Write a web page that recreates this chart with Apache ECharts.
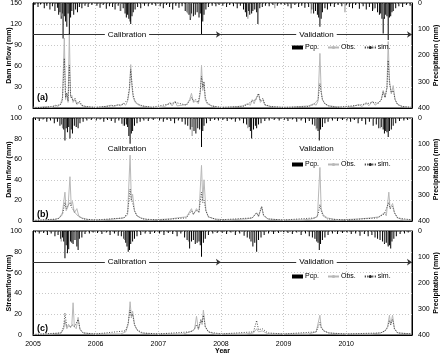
<!DOCTYPE html>
<html><head><meta charset="utf-8">
<script src="https://cdn.jsdelivr.net/npm/echarts@6/dist/echarts.min.js"></script>
<style>html,body{margin:0;padding:0;background:#fff}#c{width:443px;height:360px}</style>
</head><body><div id="c"></div>
<script>
// ---------- data ----------
const yearTicks = [2005, 2006, 2007, 2008, 2009, 2010];
const xMin = 2005, xMax = 2011.05;
const periodBounds = [2005, 2008, 2011.05];
const periodNames = ['Calibration', 'Validation'];
const panelTags = ['(a)', '(b)', '(c)'];
const flowNames = ['Dam inflow (mm)', 'Dam inflow (mm)', 'Streamflow (mm)'];
const flowMax = [150, 100, 100];
const flowStep = [30, 20, 20];
const pcpMax = 400, pcpStep = 100;
const periodLevel = [105, 70, 70];

const pcpA = [[2005.03,8],[2005.08,15],[2005.12,6],[2005.18,20],[2005.22,10],[2005.27,25],[2005.31,12],[2005.35,30],[2005.39,18],[2005.41,45],[2005.43,35],[2005.45,60],[2005.47,40],[2005.48,135],[2005.50,50],[2005.52,70],[2005.54,90],[2005.56,40],[2005.58,118],[2005.60,55],[2005.62,30],[2005.65,45],[2005.68,25],[2005.71,35],[2005.74,15],[2005.78,20],[2005.83,10],[2005.88,15],[2005.94,8],
[2006.02,10],[2006.07,18],[2006.12,8],[2006.17,22],[2006.22,12],[2006.27,15],[2006.31,25],[2006.36,10],[2006.40,30],[2006.44,20],[2006.47,40],[2006.49,55],[2006.51,45],[2006.53,60],[2006.55,70],[2006.56,80],[2006.58,50],[2006.60,35],[2006.63,25],[2006.67,15],[2006.72,20],[2006.78,10],[2006.84,12],[2006.90,8],[2006.96,10],
[2007.03,12],[2007.08,20],[2007.13,8],[2007.18,15],[2007.23,25],[2007.28,10],[2007.33,18],[2007.38,12],[2007.43,30],[2007.46,35],[2007.49,45],[2007.51,65],[2007.53,40],[2007.56,50],[2007.59,45],[2007.62,35],[2007.65,55],[2007.67,40],[2007.69,122],[2007.71,70],[2007.73,45],[2007.76,25],[2007.80,15],[2007.86,10],[2007.92,12],[2007.97,8],
[2008.03,10],[2008.09,15],[2008.14,8],[2008.20,12],[2008.26,20],[2008.31,10],[2008.36,25],[2008.39,35],[2008.41,52],[2008.44,30],[2008.46,45],[2008.49,40],[2008.51,30],[2008.54,25],[2008.57,35],[2008.59,80],[2008.62,20],[2008.66,15],[2008.71,10],[2008.77,12],[2008.83,8],[2008.90,10],[2008.96,6],
[2009.02,8],[2009.07,12],[2009.12,20],[2009.18,8],[2009.24,15],[2009.29,10],[2009.34,18],[2009.40,15],[2009.45,25],[2009.48,40],[2009.51,30],[2009.54,45],[2009.56,55],[2009.58,90],[2009.60,60],[2009.62,35],[2009.66,20],[2009.70,25],[2009.75,12],[2009.81,15],[2009.87,8],[2009.93,12],
[2010.00,10],[2010.05,15],[2010.10,20],[2010.15,8],[2010.21,22],[2010.27,12],[2010.32,25],[2010.37,15],[2010.42,30],[2010.46,20],[2010.50,35],[2010.53,45],[2010.55,40],[2010.57,60],[2010.59,116],[2010.61,60],[2010.63,45],[2010.65,50],[2010.67,141],[2010.69,55],[2010.71,50],[2010.73,35],[2010.75,30],[2010.79,20],[2010.84,12],[2010.90,15],[2010.96,8],[2011.02,10]];
const pcpGreyA = [[2005.46,50],[2006.39,30],[2007.47,40],[2007.52,55],[2008.43,60],[2008.86,20],[2009.44,40],[2009.98,35],[2010.44,25],[2010.60,55]];
const obsA = [[2005.00,1],[2005.10,1],[2005.20,2],[2005.30,1],[2005.36,4],[2005.40,2],[2005.44,6],[2005.47,15],[2005.50,100],[2005.52,12],[2005.54,20],[2005.56,8],[2005.58,107],[2005.60,15],[2005.62,18],[2005.64,8],[2005.67,12],[2005.70,5],[2005.74,8],[2005.78,3],[2005.85,2],[2005.95,1],
[2006.05,1],[2006.15,2],[2006.25,4],[2006.30,2],[2006.35,5],[2006.40,3],[2006.44,7],[2006.48,4],[2006.51,10],[2006.54,25],[2006.56,62],[2006.58,30],[2006.60,15],[2006.63,8],[2006.67,5],[2006.72,3],[2006.80,2],[2006.90,1],
[2007.00,1],[2007.10,2],[2007.19,8],[2007.22,3],[2007.27,10],[2007.30,3],[2007.38,4],[2007.45,5],[2007.50,12],[2007.53,21],[2007.56,8],[2007.60,10],[2007.64,6],[2007.67,20],[2007.69,61],[2007.71,25],[2007.73,35],[2007.75,12],[2007.78,6],[2007.85,3],[2007.95,1],
[2008.10,1],[2008.25,2],[2008.35,3],[2008.42,6],[2008.47,4],[2008.50,12],[2008.53,6],[2008.56,14],[2008.60,20],[2008.63,8],[2008.67,12],[2008.70,4],[2008.80,2],[2008.95,1],
[2009.10,1],[2009.25,2],[2009.40,3],[2009.48,6],[2009.52,4],[2009.55,10],[2009.58,78],[2009.60,25],[2009.62,12],[2009.66,6],[2009.72,3],[2009.82,2],[2009.95,1],
[2010.10,2],[2010.20,5],[2010.25,2],[2010.32,8],[2010.36,3],[2010.42,10],[2010.46,4],[2010.52,8],[2010.56,12],[2010.59,25],[2010.62,15],[2010.65,30],[2010.67,95],[2010.69,40],[2010.72,20],[2010.75,32],[2010.78,12],[2010.82,5],[2010.90,2],[2011.00,1],[2011.05,1]];
const simA = [[2005.00,0.5],[2005.20,1],[2005.36,3],[2005.44,5],[2005.47,10],[2005.50,71],[2005.52,15],[2005.54,22],[2005.56,10],[2005.58,61],[2005.60,18],[2005.62,20],[2005.64,10],[2005.67,14],[2005.70,6],[2005.74,10],[2005.78,4],[2005.85,2],
[2006.00,1],[2006.25,3],[2006.35,4],[2006.44,5],[2006.51,12],[2006.54,30],[2006.56,55],[2006.58,35],[2006.60,18],[2006.63,10],[2006.67,6],[2006.75,3],[2006.90,1],
[2007.19,6],[2007.27,8],[2007.45,4],[2007.50,10],[2007.53,15],[2007.56,10],[2007.60,12],[2007.64,8],[2007.67,25],[2007.69,45],[2007.71,30],[2007.73,38],[2007.75,15],[2007.78,8],[2007.85,3],
[2008.00,1],[2008.35,2],[2008.42,5],[2008.50,10],[2008.56,12],[2008.60,21],[2008.63,10],[2008.67,14],[2008.70,5],[2008.80,2],
[2009.00,1],[2009.40,2],[2009.48,5],[2009.55,12],[2009.58,35],[2009.60,22],[2009.62,12],[2009.66,6],[2009.72,3],[2009.85,1],
[2010.20,4],[2010.32,6],[2010.42,8],[2010.52,7],[2010.56,12],[2010.59,23],[2010.62,15],[2010.65,28],[2010.67,68],[2010.69,35],[2010.72,22],[2010.75,25],[2010.78,12],[2010.82,5],[2010.90,2],[2011.05,1]];

const pcpB = [[2005.04,8],[2005.10,12],[2005.16,6],[2005.22,15],[2005.28,10],[2005.34,20],[2005.39,15],[2005.43,30],[2005.46,25],[2005.49,45],[2005.51,87],[2005.53,40],[2005.55,55],[2005.57,35],[2005.59,80],[2005.61,45],[2005.63,60],[2005.66,30],[2005.69,35],[2005.72,40],[2005.75,20],[2005.80,15],[2005.86,10],[2005.93,8],
[2006.01,10],[2006.07,6],[2006.13,15],[2006.19,8],[2006.25,12],[2006.31,18],[2006.37,10],[2006.42,22],[2006.46,30],[2006.49,25],[2006.51,35],[2006.53,70],[2006.55,100],[2006.57,60],[2006.59,50],[2006.62,30],[2006.66,20],[2006.71,15],[2006.77,10],[2006.84,12],[2006.92,8],
[2007.02,10],[2007.08,15],[2007.14,8],[2007.20,12],[2007.26,20],[2007.32,10],[2007.38,15],[2007.43,25],[2007.47,30],[2007.51,45],[2007.54,35],[2007.57,50],[2007.60,60],[2007.63,40],[2007.66,45],[2007.69,113],[2007.71,50],[2007.73,30],[2007.77,20],[2007.83,12],[2007.90,8],[2007.96,10],
[2008.03,8],[2008.10,12],[2008.17,6],[2008.23,15],[2008.30,10],[2008.36,20],[2008.41,25],[2008.45,35],[2008.47,50],[2008.49,80],[2008.52,45],[2008.55,30],[2008.57,40],[2008.60,25],[2008.64,20],[2008.70,12],[2008.77,10],[2008.85,8],[2008.93,10],
[2009.01,8],[2009.07,12],[2009.14,6],[2009.21,15],[2009.28,10],[2009.35,18],[2009.41,12],[2009.46,25],[2009.50,30],[2009.53,40],[2009.55,50],[2009.57,87],[2009.59,45],[2009.62,35],[2009.66,20],[2009.71,15],[2009.78,10],[2009.86,12],[2009.94,8],
[2010.01,10],[2010.07,15],[2010.13,8],[2010.19,20],[2010.25,12],[2010.31,25],[2010.37,15],[2010.43,30],[2010.48,25],[2010.52,40],[2010.56,35],[2010.59,45],[2010.61,60],[2010.63,50],[2010.65,55],[2010.67,74],[2010.69,50],[2010.72,45],[2010.75,30],[2010.79,20],[2010.85,12],[2010.92,10],[2010.98,8]];
const pcpGreyB = [[2005.47,40],[2006.44,30],[2007.54,70],[2008.43,40],[2009.52,45],[2010.55,40]];
const obsB = [[2005.00,0.5],[2005.20,1],[2005.35,1.5],[2005.42,3],[2005.47,8],[2005.51,28],[2005.53,10],[2005.56,14],[2005.59,43],[2005.61,15],[2005.63,19],[2005.66,8],[2005.70,12],[2005.73,5],[2005.78,3],[2005.90,1],
[2006.10,1],[2006.30,2],[2006.45,3],[2006.51,6],[2006.55,64],[2006.57,20],[2006.59,26],[2006.62,10],[2006.66,5],[2006.72,3],[2006.85,1],
[2007.20,2],[2007.30,3],[2007.45,4],[2007.53,12],[2007.56,6],[2007.61,12],[2007.65,8],[2007.69,54],[2007.71,20],[2007.73,40],[2007.76,10],[2007.80,4],[2007.90,2],
[2008.10,1],[2008.40,2],[2008.50,3],[2008.57,8],[2008.60,4],[2008.65,14],[2008.68,5],[2008.75,2],[2008.95,1],
[2009.30,1],[2009.45,2],[2009.54,4],[2009.58,52],[2009.60,12],[2009.63,6],[2009.70,3],[2009.85,1],
[2010.20,2],[2010.40,3],[2010.52,4],[2010.61,8],[2010.64,5],[2010.68,28],[2010.70,12],[2010.74,17],[2010.77,8],[2010.82,3],[2010.92,1],[2011.05,1]];
const simB = [[2005.00,0.5],[2005.40,2],[2005.47,6],[2005.51,18],[2005.53,12],[2005.56,15],[2005.59,18],[2005.61,14],[2005.63,15],[2005.66,9],[2005.70,6],[2005.74,4],[2005.80,2],
[2006.00,1],[2006.45,3],[2006.51,8],[2006.55,31],[2006.57,20],[2006.59,18],[2006.62,10],[2006.66,5],[2006.75,2],
[2007.00,1],[2007.45,3],[2007.53,10],[2007.56,7],[2007.61,10],[2007.65,9],[2007.69,28],[2007.71,18],[2007.73,20],[2007.76,10],[2007.80,4],[2007.95,1],
[2008.50,3],[2008.57,8],[2008.60,5],[2008.65,14],[2008.68,6],[2008.75,2],
[2009.00,1],[2009.50,3],[2009.55,6],[2009.58,16],[2009.60,10],[2009.63,5],[2009.70,2],
[2010.00,1],[2010.50,3],[2010.61,7],[2010.64,6],[2010.68,18],[2010.70,12],[2010.74,14],[2010.77,8],[2010.82,3],[2011.05,1]];

const pcpC = [[2005.04,6],[2005.10,10],[2005.17,8],[2005.23,15],[2005.29,10],[2005.35,20],[2005.40,15],[2005.44,30],[2005.47,25],[2005.49,40],[2005.51,105],[2005.53,55],[2005.55,86],[2005.57,70],[2005.60,40],[2005.62,45],[2005.64,50],[2005.67,35],[2005.70,60],[2005.72,73],[2005.74,30],[2005.78,25],[2005.83,12],[2005.90,10],[2005.96,6],
[2006.03,8],[2006.10,12],[2006.17,6],[2006.23,15],[2006.30,10],[2006.36,18],[2006.41,20],[2006.45,30],[2006.48,45],[2006.50,60],[2006.52,80],[2006.54,73],[2006.56,50],[2006.59,40],[2006.62,30],[2006.66,20],[2006.72,15],[2006.79,10],[2006.87,12],[2006.94,8],
[2007.02,10],[2007.09,15],[2007.16,8],[2007.23,12],[2007.30,20],[2007.36,10],[2007.42,25],[2007.46,35],[2007.50,67],[2007.53,40],[2007.56,35],[2007.59,50],[2007.62,45],[2007.65,40],[2007.67,55],[2007.69,99],[2007.72,45],[2007.75,30],[2007.80,15],[2007.87,10],[2007.94,8],
[2008.02,8],[2008.09,12],[2008.16,6],[2008.23,15],[2008.30,10],[2008.37,18],[2008.42,25],[2008.46,30],[2008.48,40],[2008.51,60],[2008.54,45],[2008.57,80],[2008.60,35],[2008.64,25],[2008.69,15],[2008.76,10],[2008.84,12],[2008.92,8],
[2009.00,10],[2009.07,8],[2009.14,12],[2009.21,6],[2009.28,15],[2009.35,10],[2009.41,20],[2009.46,25],[2009.50,30],[2009.53,40],[2009.55,45],[2009.57,73],[2009.59,50],[2009.62,35],[2009.66,25],[2009.71,15],[2009.78,10],[2009.86,12],[2009.94,8],
[2010.01,8],[2010.08,12],[2010.15,10],[2010.22,18],[2010.29,12],[2010.35,20],[2010.41,15],[2010.46,25],[2010.50,30],[2010.54,35],[2010.58,40],[2010.61,50],[2010.64,45],[2010.67,60],[2010.69,55],[2010.71,67],[2010.73,40],[2010.76,30],[2010.80,20],[2010.86,12],[2010.93,10],[2010.99,6]];
const pcpGreyC = [[2005.45,40],[2006.46,35],[2007.48,40],[2008.47,35],[2009.51,30],[2010.62,45],[2010.66,55]];
const obsC = [[2005.00,0.5],[2005.30,1],[2005.45,2],[2005.49,6],[2005.51,14],[2005.54,6],[2005.57,9],[2005.60,7],[2005.62,10],[2005.64,31],[2005.66,8],[2005.69,6],[2005.72,17],[2005.75,5],[2005.80,2],[2005.95,1],
[2006.40,1],[2006.48,3],[2006.52,10],[2006.55,32],[2006.57,18],[2006.59,23],[2006.62,10],[2006.66,5],[2006.72,2],[2006.90,1],
[2007.40,1],[2007.50,3],[2007.55,4],[2007.58,6],[2007.61,18],[2007.64,5],[2007.68,14],[2007.70,10],[2007.72,24],[2007.75,8],[2007.80,3],[2007.90,1],
[2008.40,1],[2008.52,2],[2008.57,6],[2008.60,3],[2008.66,4],[2008.75,1],
[2009.40,1],[2009.52,3],[2009.58,19],[2009.60,8],[2009.64,4],[2009.72,2],[2009.90,1],
[2010.40,1],[2010.55,2],[2010.62,4],[2010.66,8],[2010.69,19],[2010.71,10],[2010.74,19],[2010.77,6],[2010.82,2],[2011.05,1]];
const simC = [[2005.00,0.5],[2005.45,2],[2005.49,8],[2005.51,21],[2005.54,8],[2005.57,10],[2005.60,8],[2005.62,9],[2005.64,10],[2005.66,8],[2005.69,7],[2005.72,15],[2005.75,6],[2005.80,2],
[2006.00,1],[2006.48,4],[2006.52,12],[2006.55,24],[2006.57,17],[2006.59,20],[2006.62,10],[2006.66,5],[2006.75,2],
[2007.00,1],[2007.50,3],[2007.55,4],[2007.58,6],[2007.61,10],[2007.64,6],[2007.68,15],[2007.70,12],[2007.72,19],[2007.75,8],[2007.80,3],
[2008.00,1],[2008.52,3],[2008.57,14],[2008.60,5],[2008.66,6],[2008.75,2],
[2009.00,1],[2009.52,3],[2009.58,12],[2009.60,7],[2009.64,4],[2009.72,2],
[2010.00,1],[2010.55,2],[2010.62,4],[2010.66,7],[2010.69,14],[2010.71,10],[2010.74,15],[2010.77,6],[2010.82,2],[2011.05,1]];

const pcp = [pcpA, pcpB, pcpC];
const pcpGrey = [pcpGreyA, pcpGreyB, pcpGreyC];
const obs = [obsA, obsB, obsC];
const sim = [simA, simB, simC];

// ---------- layout ----------
const FONT = 'Liberation Sans, Arial, sans-serif';
const grids = [
  {left: 33, right: 31, top: 3, height: 105},
  {left: 33, right: 31, top: 118, height: 103},
  {left: 33, right: 31, top: 231, height: 104}
];
const legendTops = [44, 161, 273];
const tagTops = [93, 210, 324];
const periodLineVisible = [true, false, true];

const option = {
  animation: false,
  backgroundColor: '#fff',
  textStyle: {fontFamily: FONT},
  grid: grids.map(g => Object.assign({
    show: true, borderColor: '#000', borderWidth: 1,
    containLabel: false, outerBoundsMode: 'none'
  }, g)),
  title: panelTags.map((t, i) => ({
    text: t, left: 37, top: tagTops[i], padding: 0,
    textStyle: {fontSize: 9, fontWeight: 'bold', color: '#000', fontFamily: FONT}
  })),
  legend: legendTops.map(top => ({
    left: 292, top: top, padding: 0, itemGap: 8, itemWidth: 11, itemHeight: 4,
    textStyle: {fontSize: 7, color: '#000', fontFamily: FONT, padding: [0, 0, 0, -3]},
    selectedMode: false,
    data: [{name: 'Pcp.', icon: 'rect'}, {name: 'Obs.'}, {name: 'sim.'}]
  })),
  xAxis: [0, 1, 2].map(i => ({
    type: 'value', gridIndex: i, min: xMin, max: xMax, interval: 1,
    axisLine: {show: true, lineStyle: {color: '#000', width: 1}},
    axisTick: {show: false},
    splitLine: {show: false},
    axisLabel: {
      show: i === 2, fontSize: 7, color: '#000', margin: 6, fontFamily: FONT,
      formatter: v => (yearTicks.indexOf(v) >= 0 ? String(v) : '')
    },
    name: i === 2 ? 'Year' : '', nameLocation: 'middle', nameGap: 13, nameMoveOverlap: false,
    nameTextStyle: {fontSize: 7, color: '#000', fontWeight: 'bold', fontFamily: FONT}
  })),
  yAxis: [],
  series: []
};

for (let i = 0; i < 3; i++) {
  option.yAxis.push({
    type: 'value', gridIndex: i, position: 'left', min: 0, max: flowMax[i], interval: flowStep[i],
    axisLine: {show: true, lineStyle: {color: '#000'}},
    axisTick: {show: false},
    axisLabel: {fontSize: 7, color: '#000', margin: 11, fontFamily: FONT},
    splitLine: {show: true, lineStyle: {color: '#c8c8c8', type: [1, 2], width: 1}},
    name: flowNames[i], nameLocation: 'middle', nameGap: 20, nameRotate: 90, nameMoveOverlap: false,
    nameTextStyle: {fontSize: 7, color: '#000', fontWeight: 'bold', fontFamily: FONT}
  });
  option.yAxis.push({
    type: 'value', gridIndex: i, position: 'right', inverse: true, min: 0, max: pcpMax, interval: pcpStep,
    axisLine: {show: true, lineStyle: {color: '#000'}},
    axisTick: {show: false},
    axisLabel: {fontSize: 7, color: '#000', margin: 6, fontFamily: FONT},
    splitLine: {show: false},
    name: 'Precipitation (mm)', nameLocation: 'middle', nameGap: 21, nameRotate: 90, nameMoveOverlap: false,
    nameTextStyle: {fontSize: 7, color: '#000', fontWeight: 'bold', fontFamily: FONT}
  });
  const fy = i * 2, py = i * 2 + 1;
  const lineColor = periodLineVisible[i] ? '#333' : 'rgba(0,0,0,0)';
  option.series.push({
    name: 'Obs.', type: 'line', xAxisIndex: i, yAxisIndex: fy, data: obs[i],
    symbol: 'none', lineStyle: {color: '#b8b8b8', width: 1}, itemStyle: {color: '#b8b8b8'}, z: 2,
    markLine: {
      silent: true, symbol: 'none', animation: false,
      label: {show: false},
      lineStyle: {color: '#c8c8c8', type: [1, 2], width: 1},
      data: yearTicks.slice(1).map(y => ({xAxis: y}))
    }
  });
  option.series.push({
    name: 'sim.', type: 'line', xAxisIndex: i, yAxisIndex: fy, data: sim[i],
    symbol: 'none', lineStyle: {color: '#222', width: 0.8, type: [1, 1.5]}, itemStyle: {color: '#222'}, z: 3,
    markLine: {
      silent: true, animation: false,
      symbol: periodLineVisible[i] ? ['none', 'arrow'] : 'none', symbolSize: 5,
      lineStyle: {color: lineColor, type: 'solid', width: 1},
      label: {
        show: true, position: 'insideMiddle', formatter: '{b}', color: '#000', fontSize: 8,
        fontFamily: FONT, backgroundColor: '#fff', padding: [1, 3]
      },
      data: periodNames.map((n, k) => [
        {name: n, coord: [periodBounds[k], periodLevel[i]]},
        {coord: [periodBounds[k + 1], periodLevel[i]]}
      ])
    }
  });
  option.series.push({
    name: 'Pcp.', type: 'bar', xAxisIndex: i, yAxisIndex: py, data: pcp[i],
    barWidth: 1, itemStyle: {color: '#000'}, z: 4
  });
  option.series.push({
    name: 'Pcp. grey', type: 'bar', xAxisIndex: i, yAxisIndex: py, data: pcpGrey[i],
    barWidth: 1, barGap: '-100%', itemStyle: {color: '#8c8c8c'}, z: 4
  });
}

const chart = echarts.init(document.getElementById('c'), null, {renderer: 'canvas'});
chart.setOption(option);
</script></body></html>
